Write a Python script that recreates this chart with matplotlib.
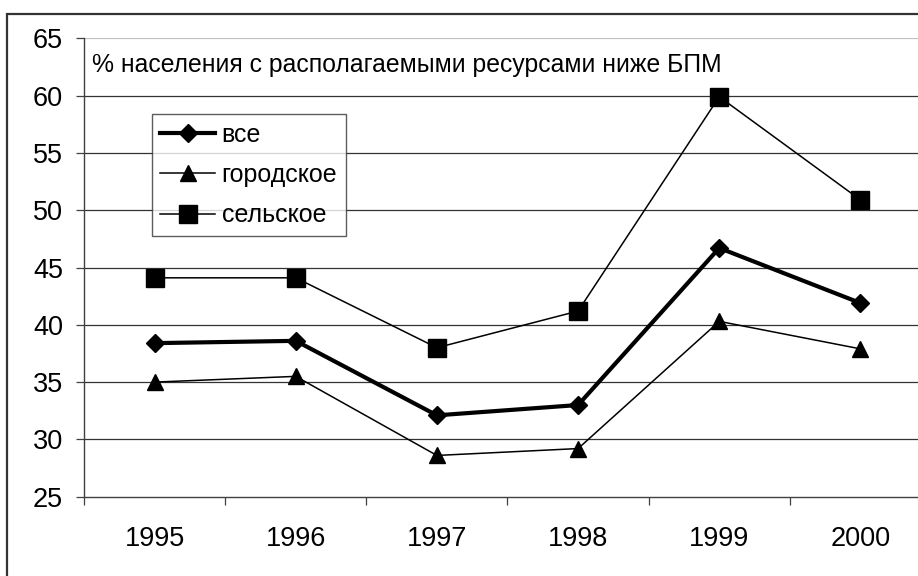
import matplotlib.pyplot as plt
from matplotlib.patches import Rectangle

plt.rcParams['font.family'] = ['Liberation Sans', 'DejaVu Sans']

# Data
years = ['1995', '1996', '1997', '1998', '1999', '2000']
vse = [38.4, 38.6, 32.1, 33.0, 46.7, 41.9]
gorodskoe = [35.0, 35.5, 28.6, 29.2, 40.3, 37.9]
selskoe = [44.1, 44.1, 38.0, 41.2, 59.9, 50.9]
yticks = [25, 30, 35, 40, 45, 50, 55, 60, 65]
note = '% населения с располагаемыми ресурсами ниже БПМ'

W, H = 918, 576
fig = plt.figure(figsize=(W / 100, H / 100), dpi=100)

# outer chart frame (runs off the right/bottom edge like the reference)
fig.patches.append(Rectangle((7 / W, -0.1), 1.2, (H - 14) / H + 0.1,
                             transform=fig.transFigure, fill=False,
                             edgecolor='#333333', linewidth=1.6))

left, right, top, bottom = 84, 931, 38.3, 496.7
ax = fig.add_axes([left / W, 1 - bottom / H, (right - left) / W, (bottom - top) / H])

x = list(range(len(years)))
ax.plot(x, vse, color='black', lw=3.0, marker='D', ms=9, label='все', zorder=5)
ax.plot(x, gorodskoe, color='black', lw=1.1, marker='^', ms=12, label='городское', zorder=5)
ax.plot(x, selskoe, color='black', lw=1.1, marker='s', ms=12.5, label='сельское', zorder=5)

ax.set_xlim(-0.5, len(years) - 0.5)
ax.set_ylim(25, 65)

# gridlines
for v in yticks[1:-1]:
    ax.axhline(v, color='#333333', lw=0.9, zorder=1)
ax.axhline(65, color='#c0c0c0', lw=1.6, zorder=1)

for s in ['top', 'right']:
    ax.spines[s].set_visible(False)
for s in ['left', 'bottom']:
    ax.spines[s].set_color('#404040')
    ax.spines[s].set_linewidth(1.0)

ax.set_yticks(yticks)
ax.tick_params(axis='y', length=6, width=0.9, color='#404040', pad=9, labelsize=19.5)

# category boundaries as major ticks, labels on minor ticks at centres
ax.set_xticks([i - 0.5 for i in range(len(years) + 1)])
ax.set_xticklabels([])
ax.set_xticks(x, minor=True)
ax.set_xticklabels(years, minor=True)
ax.tick_params(axis='x', which='major', length=6, width=0.9, color='#404040')
ax.tick_params(axis='x', which='minor', length=0, pad=21, labelsize=19.5)

ax.text(92 / W, 1 - 72 / H, note, transform=fig.transFigure, fontsize=17.8,
        ha='left', va='baseline')

leg = ax.legend(loc='upper left', bbox_to_anchor=(151.7 / W, 1 - 114 / H),
                bbox_transform=fig.transFigure, fontsize=18, frameon=True,
                fancybox=False, edgecolor='#333333', handlelength=2.2,
                handletextpad=0.25, labelspacing=0.65, borderpad=0.35,
                borderaxespad=0)
leg.get_frame().set_linewidth(1.0)

fig.savefig('out.png', dpi=100)
